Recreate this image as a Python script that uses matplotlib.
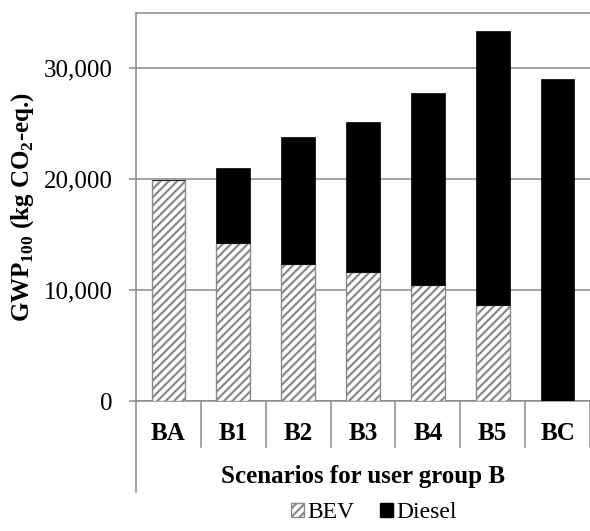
import numpy as np
import matplotlib
matplotlib.use("Agg")
import matplotlib.pyplot as plt
from matplotlib.patches import Patch
from matplotlib.ticker import FuncFormatter
import matplotlib.transforms as mtransforms

# -----------------
# data
# -----------------
scenarios = ["BA", "B1", "B2", "B3", "B4", "B5", "BC"]
bev = [19940, 14250, 12350, 11650, 10450, 8650, 0]
total = [19940, 21020, 23790, 25200, 27770, 33420, 29060]
diesel = [t - b for t, b in zip(total, bev)]
yticks = [0, 10000, 20000, 30000]

# -----------------
# style
# -----------------
plt.rcParams["font.family"] = ["Liberation Serif", "DejaVu Serif"]
plt.rcParams["mathtext.fontset"] = "custom"
plt.rcParams["mathtext.rm"] = "Liberation Serif"
plt.rcParams["mathtext.bf"] = "Liberation Serif:bold"
plt.rcParams["hatch.linewidth"] = 1.6
grey = "#8a8a8a"

fig = plt.figure(figsize=(5.9, 5.31), dpi=100)
ax = fig.add_axes([136 / 590, 1 - 401 / 531, 1 - 136 / 590, (401 - 13) / 531])

x = np.arange(len(scenarios))
ax.bar(x, bev, width=0.52, color="white", edgecolor=grey, hatch="////",
       linewidth=1.0, zorder=3, label="BEV")
ax.bar(x, diesel, bottom=bev, width=0.52, color="black", edgecolor="black",
       linewidth=0.5, zorder=3, label="Diesel")

ax.set_xlim(-0.5, 6.5)
ax.set_ylim(0, 35000)
ax.set_yticks(yticks)
ax.yaxis.set_major_formatter(FuncFormatter(lambda v, p: f"{int(v):,}"))
ax.yaxis.grid(True, color=grey, linewidth=1.1, zorder=0)
ax.tick_params(axis="y", labelsize=18, length=5, width=1.1, color=grey, pad=12)

# category labels
ax.set_xticks(x)
ax.set_xticklabels(scenarios, fontsize=18, fontweight="bold")
ax.tick_params(axis="x", length=0, pad=15)

for s in ["top", "left", "bottom"]:
    ax.spines[s].set_color(grey)
    ax.spines[s].set_linewidth(1.1)
ax.spines["right"].set_visible(False)

# category separators below the axis
trans = mtransforms.blended_transform_factory(ax.transData, ax.transAxes)
for k in range(len(scenarios) + 1):
    bottom = -0.235 if k == 0 else -0.119
    ax.plot([k - 0.5, k - 0.5], [0, bottom], color=grey, linewidth=1.1,
            transform=trans, clip_on=False)

ax.text(0.5, -0.195, "Scenarios for user group B", transform=ax.transAxes,
        ha="center", va="center", fontsize=18, fontweight="bold")

fig.text(23 / 590, 1 - 207 / 531,
         r"GWP$_{\mathbf{100}}$ (kg CO$_{\mathbf{2}}$-eq.)",
         rotation=90, ha="center", va="center", fontsize=18, fontweight="bold")

handles = [Patch(facecolor="white", edgecolor=grey, hatch="////", label="BEV"),
           Patch(facecolor="black", edgecolor="black", label="Diesel")]
fig.legend(handles=handles, loc="center", bbox_to_anchor=(374 / 590, 1 - 513 / 531),
           ncol=2, frameon=False, fontsize=17, handlelength=0.55, handleheight=0.55,
           handletextpad=0.15, columnspacing=1.1, borderpad=0)

fig.savefig("out.png", dpi=100)
